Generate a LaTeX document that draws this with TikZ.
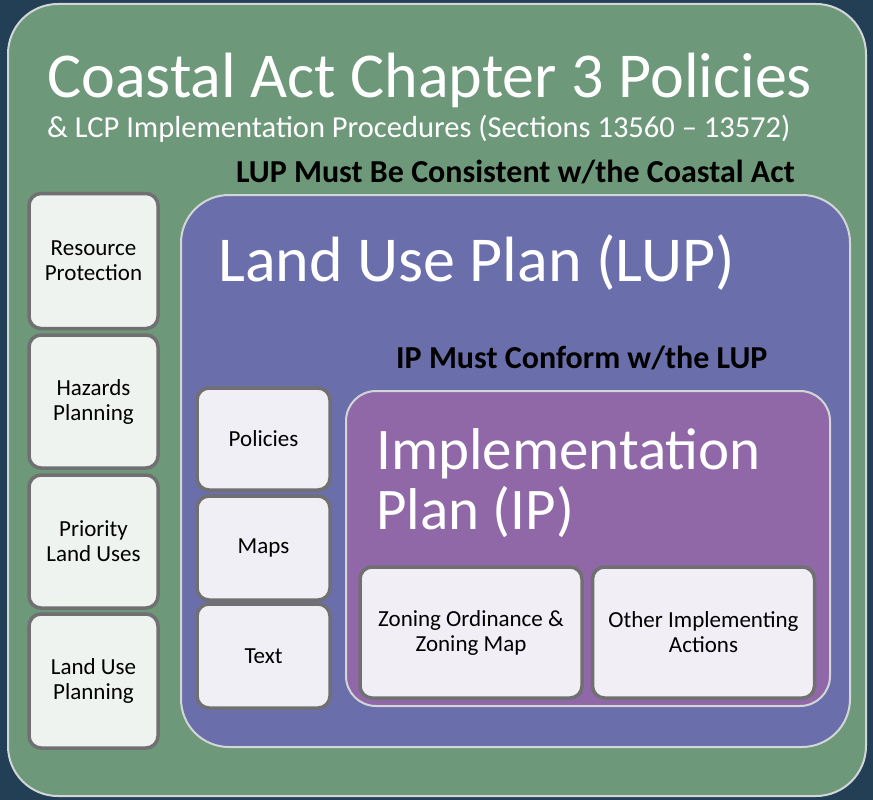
\documentclass[tikz,border=0pt]{standalone}
\usepackage{fontspec}
\setmainfont{Carlito}
\usepackage{tikz}
\definecolor{bgdark}{HTML}{223F56}
\definecolor{actgreen}{HTML}{6E987A}
\definecolor{lupblue}{HTML}{6A6FAB}
\definecolor{ippurple}{HTML}{9068A8}
\definecolor{rimgray}{HTML}{D2D6D6}
\definecolor{boxgray}{HTML}{707073}
\definecolor{fillgreen}{HTML}{EFF3EF}
\definecolor{fillblue}{HTML}{EFEFF5}
\definecolor{fillpurple}{HTML}{F2EEF6}

\begin{document}
\begin{tikzpicture}[x=1pt,y=-1pt,
  panel/.style={draw=rimgray, line width=2pt},
  item/.style={draw=boxgray, line width=3.5pt, rounded corners=12pt, align=center,
    font=\fontsize{23}{25}\selectfont, inner sep=0pt},
  bigtext/.style={anchor=base west, inner sep=0pt, text=white},
  ruletext/.style={anchor=base west, inner sep=0pt, font=\fontsize{32}{36}\selectfont\bfseries}]

% background and the three panels
\fill[bgdark] (0,0) rectangle (873,800);
\filldraw[panel, fill=actgreen, rounded corners=50pt] (8,4) rectangle (866,796);
\filldraw[panel, fill=lupblue, rounded corners=48pt] (181,195) rectangle (850,747);
\filldraw[panel, fill=ippurple, rounded corners=30pt] (346,391) rectangle (830,706);

% titles
\node[bigtext, font=\fontsize{64}{70}\selectfont] (acttitle) at (47,97) {Coastal Act Chapter 3 Policies};
\node[bigtext, font=\fontsize{30.5}{34}\selectfont] (actsub) at (47,137) {\& LCP Implementation Procedures (Sections 13560 -- 13572)};
\node[ruletext] (lupmust) at (236,182) {LUP Must Be Consistent w/the Coastal Act};
\node[bigtext, font=\fontsize{64}{70}\selectfont] (luptitle) at (218,281) {Land Use Plan (LUP)};
\node[ruletext] (ipmust) at (396,368) {IP Must Conform w/the LUP};
\node[bigtext, font=\fontsize{59}{60}\selectfont, align=left, anchor=north west] (iptitle) at (376,428) {Implementation\\Plan (IP)};

% Chapter 3 topics
\node[item, fill=fillgreen, minimum width=129pt, minimum height=135pt] (resource) at (93.5,261) {Resource\\Protection};
\node[item, fill=fillgreen, minimum width=129pt, minimum height=133pt] (hazards) at (93.5,401.5) {Hazards\\Planning};
\node[item, fill=fillgreen, minimum width=129pt, minimum height=133pt] (priority) at (93.5,541.5) {Priority\\Land Uses};
\node[item, fill=fillgreen, minimum width=129pt, minimum height=134pt] (landuse) at (93.5,681) {Land Use\\Planning};

% LUP parts
\node[item, fill=fillblue, minimum width=133pt, minimum height=102pt] (policies) at (263.5,439) {Policies};
\node[item, fill=fillblue, minimum width=133pt, minimum height=104pt] (maps) at (263.5,548) {Maps};
\node[item, fill=fillblue, minimum width=133pt, minimum height=104pt] (lutext) at (263.5,656) {Text};

% IP parts
\node[item, fill=fillpurple, minimum width=222pt, minimum height=131pt] (zoning) at (471,632.5) {Zoning Ordinance \&\\Zoning Map};
\node[item, fill=fillpurple, minimum width=222pt, minimum height=131pt] (otheract) at (703.5,632.5) {Other Implementing\\Actions};
\end{tikzpicture}
\end{document}
